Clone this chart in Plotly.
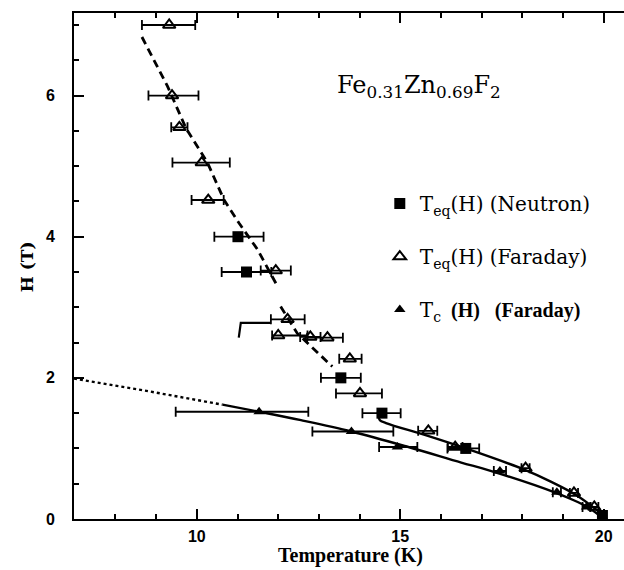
import plotly.graph_objects as go

# ---------------- data ----------------
# T_eq(H) from neutron scattering (filled squares)
neu_T = [11.01, 11.22, 13.54, 14.55, 16.61, 19.97]
neu_H = [4.00, 3.50, 2.00, 1.50, 1.00, 0.05]
neu_em = [0.58, 0.61, 0.49, 0.48, 0.45, 0.0]
neu_ep = [0.63, 0.61, 0.49, 0.46, 0.33, 0.0]

# T_eq(H) from Faraday rotation (open triangles)
far_T = [9.32, 9.39, 9.57, 10.12, 10.28, 11.94, 12.23, 12.00, 12.79, 13.21,
         13.76, 14.01, 15.69, 16.35, 18.08, 19.27, 19.77]
far_H = [7.00, 6.00, 5.55, 5.05, 4.52, 3.52, 2.83, 2.60, 2.58, 2.57,
         2.27, 1.78, 1.25, 1.02, 0.72, 0.37, 0.17]
far_em = [0.67, 0.58, 0.20, 0.72, 0.41, 0.37, 0.41, 0.15, 0.25, 0.50,
          0.26, 0.59, 0.25, 0.18, 0.10, 0.10, 0.10]
far_ep = [0.64, 0.65, 0.20, 0.69, 0.38, 0.37, 0.42, 0.72, 0.25, 0.38,
          0.29, 0.54, 0.22, 0.18, 0.10, 0.10, 0.10]

# T_c(H) from Faraday rotation (filled triangles)
tc_T = [11.53, 13.80, 14.93, 17.45, 18.85, 19.58, 19.97]
tc_H = [1.52, 1.24, 1.02, 0.68, 0.38, 0.17, 0.03]
tc_em = [2.05, 0.96, 0.45, 0.15, 0.10, 0.10, 0.0]
tc_ep = [1.21, 1.03, 0.49, 0.15, 0.10, 0.10, 0.0]

# guide lines
dash_T = [8.65, 9.28, 9.73, 10.26, 10.67, 11.04, 11.49, 11.98, None, 12.06, 12.47, 13.33]
dash_H = [6.83, 6.13, 5.54, 5.05, 4.52, 4.19, 3.82, 3.30, None, 3.01, 2.63, 2.16]

dot_T = [6.98, 8.62, 10.63]
dot_H = [1.99, 1.83, 1.62]

low_T = [10.63, 11.53, 12.56, 13.80, 15.20, 16.50, 17.18, 18.78, 19.60, 20.00]
low_H = [1.62, 1.52, 1.40, 1.24, 1.02, 0.80, 0.69, 0.38, 0.17, 0.00]

up_T = [14.45, 14.50, 14.65, 15.66, 16.61, 18.05, 18.70, 19.35, 20.00]
up_H = [1.52, 1.40, 1.36, 1.18, 1.00, 0.70, 0.53, 0.33, 0.05]

hook_T = [11.03, 11.08, 11.82]
hook_H = [2.57, 2.78, 2.78]

x_range = [6.98, 20.5]
y_range = [0.0, 7.17]
x_ticks = [10, 15, 20]
y_ticks = [0, 2, 4, 6]

TYPE = "DejaVu Serif"
BOLDSERIF = "Liberation Serif"

fig = go.Figure()

line_style = dict(color="black", width=2.4)
fig.add_trace(go.Scatter(x=dash_T, y=dash_H, mode="lines", connectgaps=False,
                         line=dict(color="black", width=2.8, dash="8px,5px"),
                         showlegend=False, hoverinfo="skip"))
fig.add_trace(go.Scatter(x=dot_T, y=dot_H, mode="lines",
                         line=dict(color="black", width=2.4, dash="dot"),
                         showlegend=False, hoverinfo="skip"))
fig.add_trace(go.Scatter(x=low_T, y=low_H, mode="lines", line=line_style,
                         line_shape="spline", showlegend=False, hoverinfo="skip"))
fig.add_trace(go.Scatter(x=up_T, y=up_H, mode="lines", line=line_style,
                         line_shape="spline", showlegend=False, hoverinfo="skip"))
fig.add_trace(go.Scatter(x=hook_T, y=hook_H, mode="lines",
                         line=dict(color="black", width=2.2),
                         showlegend=False, hoverinfo="skip"))

err_style = dict(type="data", symmetric=False, color="black", thickness=1.8, width=5)

fig.add_trace(go.Scatter(
    x=neu_T, y=neu_H, mode="markers", name="T<sub>eq</sub>(H) (Neutron)",
    legendgroup="n",
    marker=dict(symbol="square", size=11, color="black"),
    error_x=dict(array=neu_ep, arrayminus=neu_em, **err_style)))
fig.add_trace(go.Scatter(
    x=far_T, y=far_H, mode="markers", name="T<sub>eq</sub>(H) (Faraday)",
    legendgroup="f",
    marker=dict(symbol="triangle-up-open", size=11, color="black",
                line=dict(width=2, color="black")),
    error_x=dict(array=far_ep, arrayminus=far_em, **err_style)))
fig.add_trace(go.Scatter(
    x=tc_T, y=tc_H, mode="markers",
    name=("T<sub>c</sub><span style='font-family:" + BOLDSERIF +
          ";font-weight:bold;font-size:20px'>\u00a0\u00a0(H)\u00a0\u00a0\u00a0(Faraday)</span>"),
    legendgroup="c",
    marker=dict(symbol="triangle-up", size=10, color="black"),
    error_x=dict(array=tc_ep, arrayminus=tc_em, **err_style)))

fig.update_layout(
    width=624, height=570,
    margin=dict(l=74, r=0, t=13, b=51),
    paper_bgcolor="white", plot_bgcolor="white",
    showlegend=True,
    legend=dict(x=0.556, y=0.662, xanchor="left", yanchor="top",
                font=dict(family=TYPE, size=20, color="black"),
                tracegroupgap=24, itemsizing="trace",
                bgcolor="rgba(0,0,0,0)", borderwidth=0),
    xaxis=dict(range=x_range, tickvals=x_ticks, showgrid=False, zeroline=False,
               showline=True, linecolor="black", linewidth=2, mirror="ticks",
               ticks="inside", ticklen=10, tickwidth=2, tickcolor="black",
               minor=dict(dtick=1, ticks="inside", ticklen=5, tickwidth=1.5,
                          tickcolor="black", showgrid=False),
               tickfont=dict(family="Liberation Sans", size=16, color="black",
                             weight="bold"),
               ticklabelstandoff=2),
    yaxis=dict(range=y_range, tickvals=y_ticks, showgrid=False, zeroline=False,
               showline=True, linecolor="black", linewidth=2,
               ticks="inside", ticklen=10, tickwidth=2, tickcolor="black",
               minor=dict(dtick=0.5, ticks="inside", ticklen=5, tickwidth=1.5,
                          tickcolor="black", showgrid=False),
               tickfont=dict(family="Liberation Sans", size=16, color="black",
                             weight="bold"),
               ticklabelstandoff=14),
    annotations=[
        dict(text="Fe<sub>0.31</sub>Zn<sub>0.69</sub>F<sub>2</sub>",
             xref="paper", yref="paper", x=0.475, y=0.854,
             xanchor="left", yanchor="middle", showarrow=False,
             font=dict(family=TYPE, size=24, color="black")),
        dict(text="<b>Temperature (K)</b>", xref="paper", yref="paper",
             x=0.503, y=-0.072, xanchor="center", yanchor="middle",
             showarrow=False,
             font=dict(family=BOLDSERIF, size=20, color="black")),
        dict(text="<b>H (T)</b>", xref="paper", yref="paper",
             x=-0.085, y=0.498, xanchor="center", yanchor="middle",
             textangle=-90, showarrow=False,
             font=dict(family=TYPE, size=17, color="black")),
    ],
)

fig.write_html("out.html")
